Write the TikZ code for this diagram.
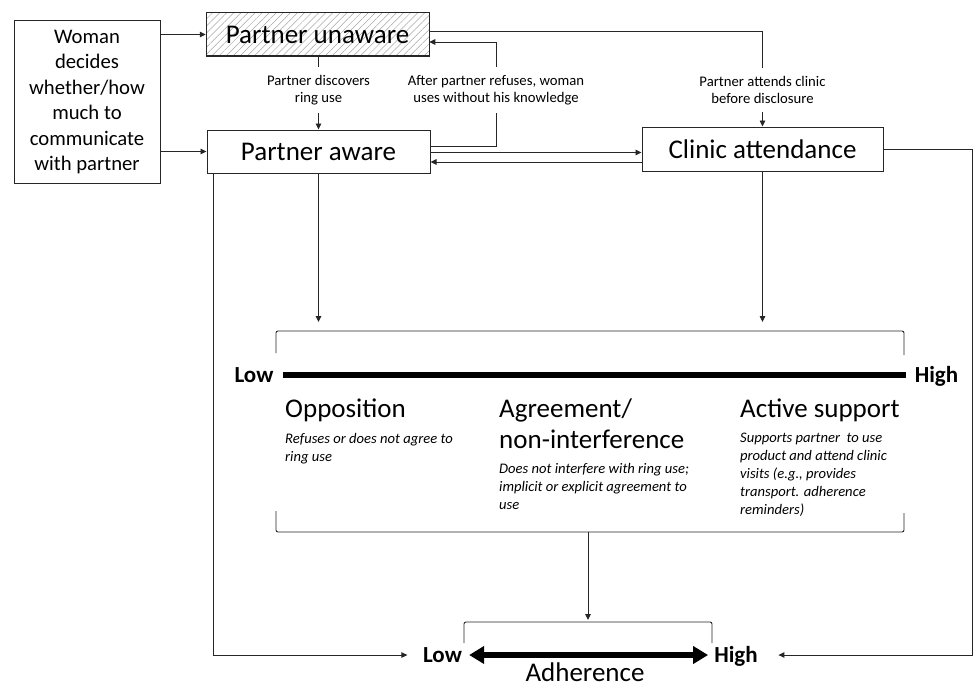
\documentclass[tikz,border=0pt]{standalone}
\usepackage{fontspec}
\setmainfont{Carlito}
\usetikzlibrary{arrows.meta,patterns.meta}
\definecolor{ln}{HTML}{262626}
\definecolor{ht}{HTML}{A6A6A6}

\tikzset{
  box/.style={draw=ln, line width=1pt, inner sep=0pt, align=center},
  bigtxt/.style={font=\fontsize{27}{31}\selectfont},
  lbl/.style={font=\fontsize{14.7}{17}\selectfont, align=center, inner xsep=2pt, inner ysep=8pt},
  conn/.style={draw=ln, line width=0.9pt},
  arr/.style={conn, -{Triangle[length=6pt,width=5.5pt]}},
  ends/.style={font=\bfseries\fontsize{23}{27}\selectfont, text height=14.8pt, text depth=0pt, inner ysep=0pt, inner xsep=9pt},
  title/.style={font=\fontsize{27}{31}\selectfont, anchor=base west, inner sep=0pt, align=left},
  desc/.style={font=\itshape\fontsize{14.6}{18.2}\selectfont, anchor=base west, inner sep=0pt, align=left},
  brk/.style={draw=ln, line width=0.9pt, rounded corners=2pt},
}

\begin{document}
\begin{tikzpicture}[x=1pt, y=-1pt]
  \useasboundingbox (0,0) rectangle (973,685);

  % top row
  \node[box, minimum width=146pt, minimum height=162pt, font=\fontsize{20.7}{25.5}\selectfont] (woman) at (87,102) {Woman\\decides\\whether/how\\much to\\communicate\\with partner};
  \node[box, bigtxt, minimum width=223pt, minimum height=43pt, pattern={Lines[angle=45,distance=5pt,line width=0.5pt]}, pattern color=ht] (unaware) at (317.5,34.5) {Partner unaware};
  \node[box, bigtxt, minimum width=223pt, minimum height=43pt] (aware) at (318.5,151.5) {Partner aware};
  \node[box, bigtxt, minimum width=241pt, minimum height=44pt] (clinic) at (762.5,149) {Clinic attendance};

  \node[lbl] (discover) at (318.5,90) {Partner discovers\\ring use};
  \node[lbl] (refuse) at (496,90) {After partner refuses, woman\\uses without his knowledge};
  \node[lbl] (attend) at (762.5,90) {Partner attends clinic\\before disclosure};

  \draw[arr] (woman.east |- unaware.west) -- (unaware.west);
  \draw[arr] (woman.east |- aware.west) -- (aware.west);
  \draw[conn] (discover.north |- unaware.south) -- (discover.north);
  \draw[arr] (discover.south) -- (discover.south |- aware.north);
  \draw[conn] ([yshift=5.5pt]aware.east) -| (refuse.south);
  \draw[arr] (refuse.north) |- ([yshift=-7.5pt]unaware.east);
  \draw[conn] ([yshift=3.5pt]unaware.east) -| (attend.north);
  \draw[arr] (attend.south) -- (clinic.north);
  \draw[arr] ([yshift=-1pt]aware.east) -- ([yshift=-1pt]aware.east -| clinic.west);
  \draw[arr] ([yshift=-13pt]clinic.west) -- ([yshift=-13pt]clinic.west -| aware.east);

  % partner support scale
  \coordinate (sctop) at (590,331);
  \coordinate (scbot) at (588,532);
  \draw[brk] (276,353) -- (276,331) -- (904,331) -- (904,355);
  \draw[brk] (276,511) -- (276,532) -- (904,532) -- (904,513);
  \draw[arr, shorten >=9pt] (aware.south) -- (aware.south |- sctop);
  \draw[arr, shorten >=9pt] (clinic.south) -- (clinic.south |- sctop);

  \node[ends] (slow) at (254,375) {Low};
  \node[ends] (shigh) at (936.5,375) {High};
  \draw[line width=6pt] (slow.east) -- (slow.east -| shigh.west);

  % base anchor of a multi-line node sits on its last line
  \node[title] (oppo) at (285,417) {Opposition};
  \node[title] (agree) at (499,448) {Agreement/\\non-interference};
  \node[title] (active) at (740,417) {Active support};
  \node[desc] (oppodesc) at (285,461.2) {Refuses or does not agree to\\ring use};
  \node[desc] (agreedesc) at (499,509.4) {Does not interfere with ring use;\\implicit or explicit agreement to\\use};
  \node[desc] (activedesc) at (740,514.8) {Supports partner\ \ to use\\product and attend clinic\\visits (e.g., provides\\transport. adherence\\reminders)};

  % adherence
  \coordinate (adtop) at (588,622);
  \draw[brk] (464,643) -- (464,622) -- (712,622) -- (712,643);
  \draw[arr, shorten >=2pt] (scbot) -- (adtop);
  \node[ends, inner xsep=7pt] (alow) at (442.5,655) {Low};
  \node[ends, inner xsep=6pt] (ahigh) at (736,655) {High};
  \draw[line width=5.5pt, {Triangle[length=15pt,width=17pt]}-{Triangle[length=15pt,width=17pt]}] (alow.east) -- (ahigh.west);
  \node[bigtxt, anchor=base, inner sep=0pt] (adh) at (585,681) {Adherence};

  \coordinate (lturn) at (213,655);
  \coordinate (rturn) at (972.5,655);
  \draw[arr, shorten >=8.5pt] (aware.south -| lturn) -- (lturn) -- (alow.west);
  \draw[arr, shorten >=14.5pt] (clinic.east) -| (rturn) -- (ahigh.east);
\end{tikzpicture}
\end{document}
